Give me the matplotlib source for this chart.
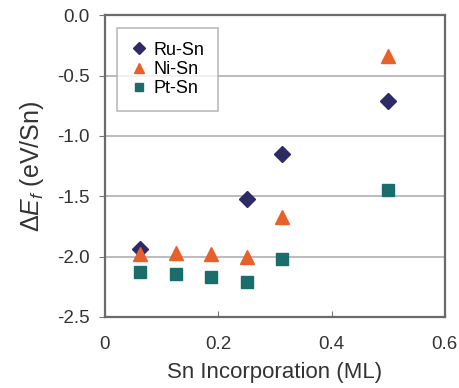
import matplotlib
matplotlib.use('Agg')
import matplotlib.pyplot as plt

plt.rcParams['font.family'] = ['Liberation Sans', 'DejaVu Sans']
plt.rcParams['mathtext.fontset'] = 'custom'
plt.rcParams['mathtext.rm'] = 'Liberation Sans'
plt.rcParams['mathtext.it'] = 'Liberation Sans:italic'

# Sn incorporation (ML) and formation energies (eV/Sn)
ru_x = [0.0625, 0.25, 0.3125, 0.5]
ru_y = [-1.94, -1.52, -1.15, -0.71]
ni_x = [0.0625, 0.125, 0.1875, 0.25, 0.3125, 0.5]
ni_y = [-1.98, -1.97, -1.98, -2.00, -1.67, -0.34]
pt_x = [0.0625, 0.125, 0.1875, 0.25, 0.3125, 0.5]
pt_y = [-2.13, -2.14, -2.17, -2.21, -2.02, -1.45]

x_ticks = [0, 0.2, 0.4, 0.6]
x_labels = ['0', '0.2', '0.4', '0.6']
y_ticks = [-2.5, -2.0, -1.5, -1.0, -0.5, 0.0]

fig = plt.figure(figsize=(4.6, 3.88), dpi=100)
ax = fig.add_axes([0.228, 0.183, 0.739, 0.778])

ax.plot(ru_x, ru_y, 'D', color='#2d2a66', markersize=8.5, label='Ru-Sn', zorder=3)
ax.plot(ni_x, ni_y, '^', color='#e8602a', markersize=10, label='Ni-Sn', zorder=3)
ax.plot(pt_x, pt_y, 's', color='#1b6d6b', markersize=8, label='Pt-Sn', zorder=3)

ax.set_xlim(0, 0.6)
ax.set_ylim(-2.5, 0.0)
ax.set_xticks(x_ticks)
ax.set_xticklabels(x_labels)
ax.set_yticks(y_ticks)
ax.set_yticklabels(['%.1f' % v for v in y_ticks])
ax.yaxis.grid(True, color='#b0b0b0', linewidth=1.2)
ax.set_axisbelow(True)
for s in ax.spines.values():
    s.set_color('#6a6a6a')
    s.set_linewidth(1.6)
ax.tick_params(axis='x', direction='in', length=4, labelsize=13.5, pad=14, colors='#777777', labelcolor='#333333')
ax.tick_params(axis='y', direction='out', length=4, labelsize=13.5, pad=7, colors='#777777', labelcolor='#333333')

ax.set_xlabel('Sn Incorporation (ML)', fontsize=16, color='#333333', labelpad=6)
ax.set_ylabel(r'$\Delta E_f$ (eV/Sn)', fontsize=18, color='#333333', labelpad=8)

leg = ax.legend(loc='upper left', bbox_to_anchor=(0.035, 0.957), borderaxespad=0, fontsize=13,
                frameon=True, fancybox=False, edgecolor='#aaaaaa', handletextpad=0.3,
                handlelength=1.0, markerscale=0.75, borderpad=0.75, labelspacing=0.12)
leg.get_frame().set_linewidth(1.2)

fig.savefig('out.png', dpi=100)
